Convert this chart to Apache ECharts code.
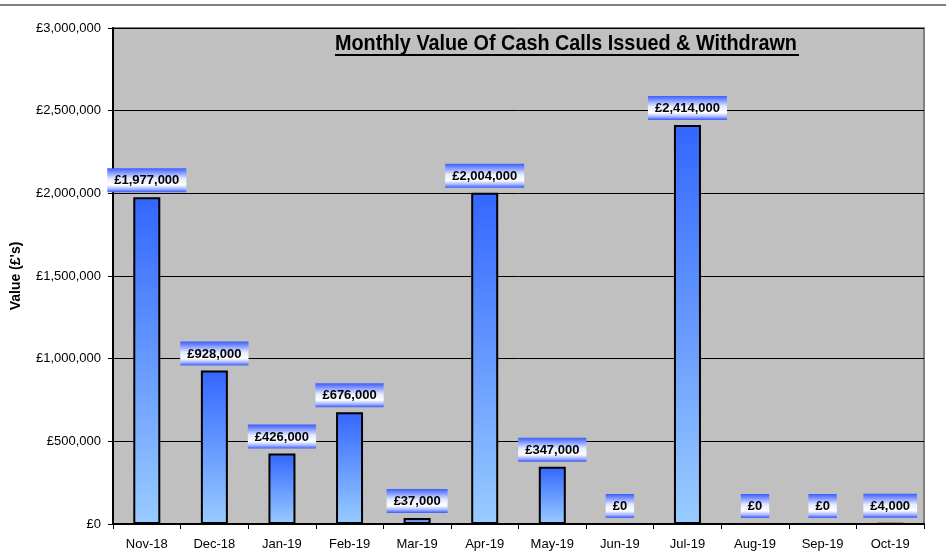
<!DOCTYPE html>
<html>
<head>
<meta charset="utf-8">
<script src="https://cdn.jsdelivr.net/npm/echarts@6/dist/echarts.min.js"></script>
<style>
  html, body { margin: 0; padding: 0; background: #fff; }
  #chart { width: 946px; height: 555px; }
</style>
</head>
<body>
<div id="chart"></div>
<script>
    // months and values
    var months = ['Nov-18', 'Dec-18', 'Jan-19', 'Feb-19', 'Mar-19', 'Apr-19', 'May-19', 'Jun-19', 'Jul-19', 'Aug-19', 'Sep-19', 'Oct-19'];
    var values = [1977000, 928000, 426000, 676000, 37000, 2004000, 347000, 0, 2414000, 0, 0, 4000];
    var yTicks = [0, 500000, 1000000, 1500000, 2000000, 2500000, 3000000];

    function money(v) {
        return '£' + String(v).replace(/\B(?=(\d{3})+(?!\d))/g, ',');
    }

    var myChart = echarts.init(document.getElementById('chart'));

    var barFill = new echarts.graphic.LinearGradient(0, 0, 0, 1, [
        {offset: 0, color: '#3366ff'},
        {offset: 1, color: '#99ccff'}
    ]);
    var labelFill = new echarts.graphic.LinearGradient(0, 0, 0, 1, [
        {offset: 0, color: '#3a5cff'},
        {offset: 0.45, color: '#e6ebff'},
        {offset: 0.7, color: '#ffffff'},
        {offset: 0.86, color: '#aab9ff'},
        {offset: 1, color: '#3a5cff'}
    ]);

    myChart.setOption({
        animation: false,
        graphic: [
            {type: 'line', shape: {x1: 0, y1: 5, x2: 946, y2: 5}, style: {stroke: '#808080', lineWidth: 2}},
            // title is a bit narrow in the original, so squeeze it
            {
                type: 'text', z: 10, x: 335, y: 33, scaleX: 0.9,
                style: {
                    text: 'Monthly Value Of Cash Calls Issued & Withdrawn',
                    font: 'bold 22px "Liberation Sans"',
                    fill: '#000'
                }
            },
            {type: 'line', z: 10, shape: {x1: 335, y1: 55, x2: 799, y2: 55}, style: {stroke: '#000', lineWidth: 2}}
        ],
        grid: {
            left: 113,
            right: 22,
            top: 28,
            bottom: 31,
            show: true,
            backgroundColor: '#c0c0c0',
            borderColor: '#808080',
            borderWidth: 2
        },
        xAxis: {
            type: 'category',
            data: months,
            axisLine: {lineStyle: {color: '#000', width: 2}},
            axisTick: {show: true, length: 5, lineStyle: {color: '#000'}},
            axisLabel: {
                interval: 0,
                margin: 14,
                color: '#000',
                fontFamily: 'Liberation Sans',
                fontSize: 13
            }
        },
        yAxis: {
            type: 'value',
            min: yTicks[0],
            max: yTicks[yTicks.length - 1],
            interval: yTicks[1] - yTicks[0],
            name: "Value (£'s)",
            nameLocation: 'middle',
            nameGap: 90,
            nameTextStyle: {
                fontFamily: 'Liberation Sans',
                fontSize: 14,
                fontWeight: 'bold',
                color: '#000'
            },
            axisLine: {show: true, lineStyle: {color: '#000', width: 2}},
            axisTick: {show: true, length: 5, lineStyle: {color: '#000'}},
            axisLabel: {
                margin: 12,
                color: '#000',
                fontFamily: 'Liberation Sans',
                fontSize: 13,
                formatter: money
            },
            splitLine: {lineStyle: {color: '#000', width: 1}}
        },
        series: [{
            type: 'bar',
            data: values,
            barWidth: 27,
            itemStyle: {
                color: barFill,
                borderColor: '#000',
                borderWidth: 2
            },
            label: {
                show: true,
                position: 'top',
                distance: 5,
                formatter: function (p) { return money(p.value); },
                fontFamily: 'Liberation Sans',
                fontSize: 13,
                fontWeight: 'bold',
                color: '#000',
                backgroundColor: labelFill,
                padding: [6, 7, 5, 7]
            }
        }]
    });
</script>
</body>
</html>
